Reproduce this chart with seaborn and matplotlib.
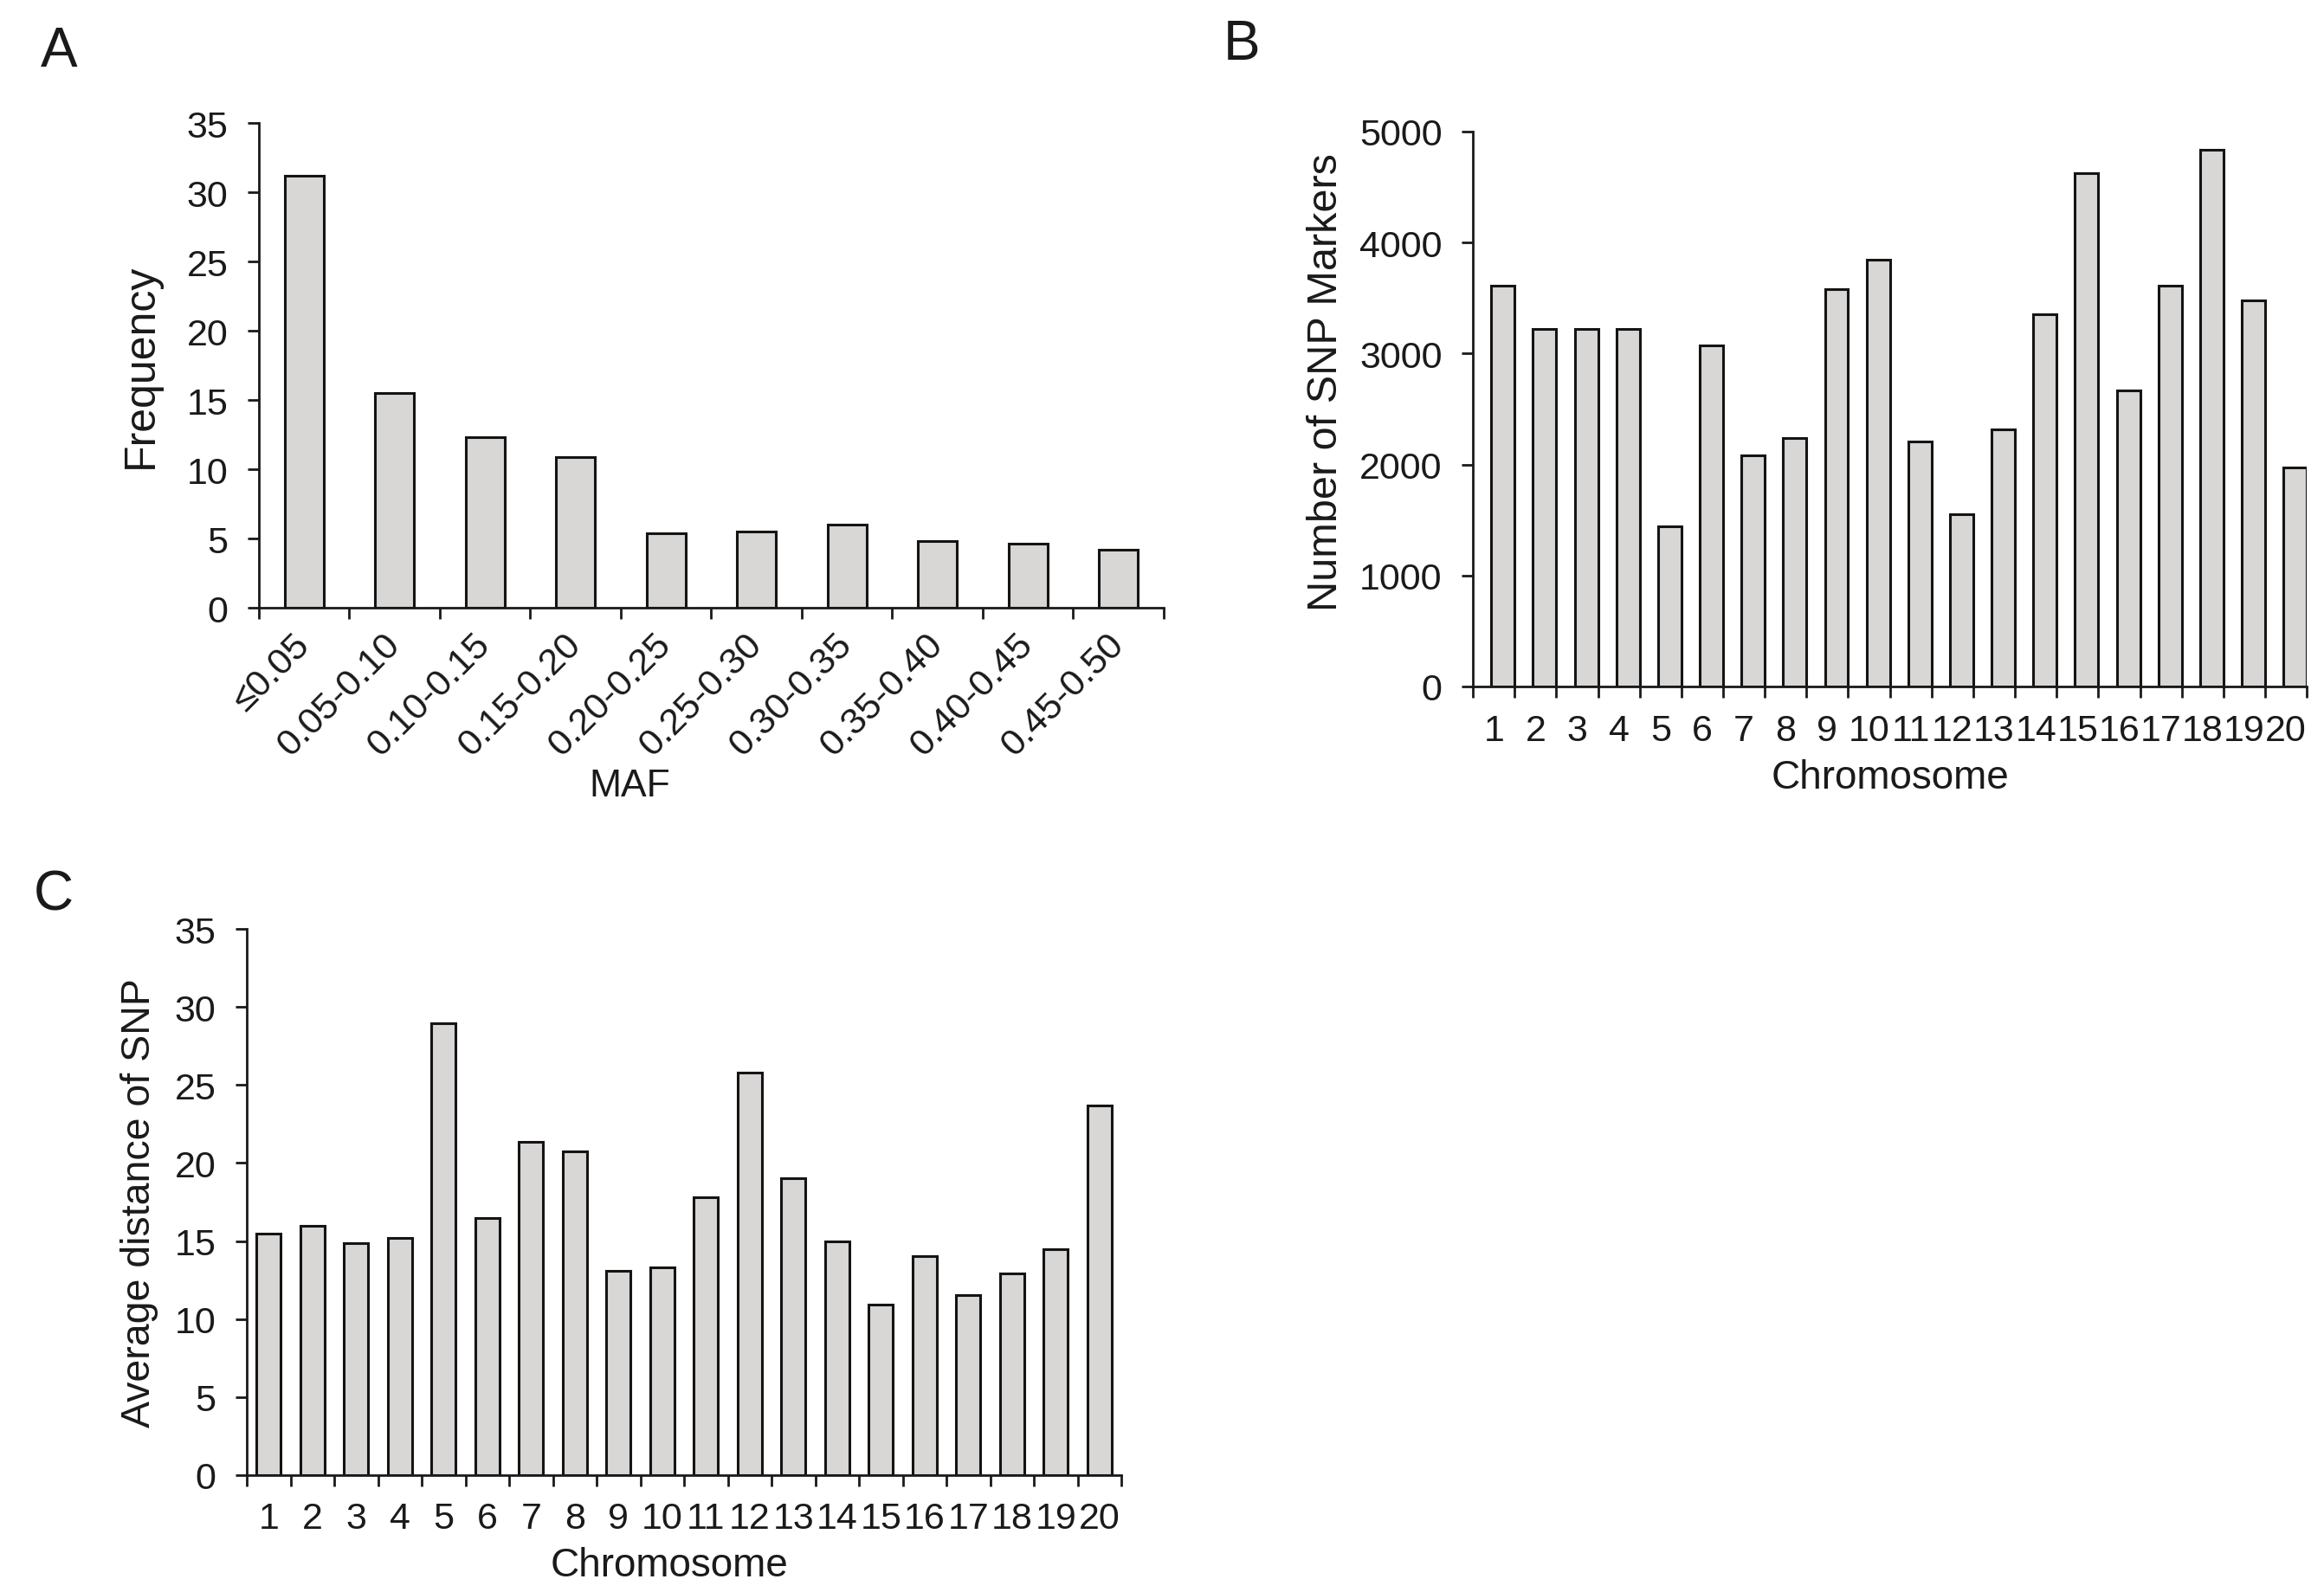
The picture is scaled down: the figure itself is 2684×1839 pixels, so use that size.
import matplotlib
matplotlib.use("Agg")
import matplotlib.pyplot as plt
from matplotlib.ticker import FixedLocator, MultipleLocator
import seaborn as sns
import pandas as pd
import numpy as np

# ---------------- data ----------------
maf_bins = ["≤0.05", "0.05-0.10", "0.10-0.15", "0.15-0.20", "0.20-0.25",
            "0.25-0.30", "0.30-0.35", "0.35-0.40", "0.40-0.45", "0.45-0.50"]
maf_freq = [31.2, 15.5, 12.3, 10.9, 5.4, 5.5, 6.0, 4.8, 4.6, 4.2]

chromosomes = [str(i) for i in range(1, 21)]
snp_counts = [3610, 3220, 3220, 3220, 1440, 3070, 2085, 2237, 3583, 3844,
              2204, 1550, 2313, 3351, 4621, 2668, 3611, 4839, 3479, 1972]
avg_distance = [15.5, 16.0, 14.85, 15.2, 28.95, 16.5, 21.35, 20.75, 13.1, 13.3,
                17.8, 25.8, 19.0, 14.95, 10.95, 14.05, 11.55, 12.9, 14.5, 23.7]

# ---------------- style ----------------
sns.set_theme(style="ticks")
plt.rcParams["font.family"] = ["Liberation Sans", "DejaVu Sans"]
plt.rcParams["axes.linewidth"] = 2.0

BAR_FILL = "#d9d7d6"
BAR_EDGE = "#141414"
TICK_FS = 31
TEXT_C = "#1a1a1a"

fig = plt.figure(figsize=(26.84, 18.40), dpi=100)
fig.patch.set_facecolor("white")

axA = fig.add_axes([0.1114, 0.6179, 0.3893, 0.3043])
axB = fig.add_axes([0.6338, 0.5685, 0.3588, 0.3484])
axC = fig.add_axes([0.1062, 0.0734, 0.3763, 0.3429])


def style_axis(ax, n, ymax, ystep, xpad, shift=0.0):
    ax.set_xlim(-0.5, n - 0.5)
    ax.set_ylim(0, ymax)
    ax.yaxis.set_major_locator(MultipleLocator(ystep))
    for s in ["top", "right"]:
        ax.spines[s].set_visible(False)
    for s in ["left", "bottom"]:
        ax.spines[s].set_color(TEXT_C)
        ax.spines[s].set_linewidth(2.0)
    # category labels at centres with no mark, tick marks at category edges
    ax.xaxis.set_minor_locator(FixedLocator(np.arange(-0.5, n, 1.0)))
    ax.tick_params(axis="x", which="major", length=0, pad=xpad,
                   labelsize=TICK_FS, colors=TEXT_C)
    ax.tick_params(axis="x", which="minor", length=9.5, width=2.0,
                   direction="out", color=TEXT_C)
    ax.tick_params(axis="y", which="major", length=9.5, width=2.0,
                   direction="out", pad=16, labelsize=TICK_FS, colors=TEXT_C)
    if shift:
        for p in ax.patches:
            p.set_x(p.get_x() + shift)


# ---------------- Panel A ----------------
sns.barplot(x=maf_bins, y=maf_freq, order=maf_bins, color=BAR_FILL, saturation=1,
            width=0.43, edgecolor=BAR_EDGE, linewidth=2.2, ax=axA)
style_axis(axA, len(maf_bins), 35, 5, xpad=26)
for lab in axA.get_xticklabels():
    lab.set_rotation(45)
    lab.set_ha("right")
    lab.set_va("center")
    lab.set_rotation_mode("anchor")
axA.set_xlabel("MAF", fontsize=32, color=TEXT_C)
axA.xaxis.set_label_coords(0.41, -0.33)
axA.set_ylabel("Frequency", fontsize=36, color=TEXT_C)
axA.yaxis.set_label_coords(-0.108, 0.5)

# ---------------- Panel B ----------------
sns.barplot(x=chromosomes, y=snp_counts, order=chromosomes, color=BAR_FILL, saturation=1,
            width=0.56, edgecolor=BAR_EDGE, linewidth=2.2, ax=axB)
style_axis(axB, len(chromosomes), 5000, 1000, xpad=22, shift=0.22)
axB.set_xlabel("Chromosome", fontsize=33, color=TEXT_C)
axB.xaxis.set_label_coords(0.50, -0.13)
axB.set_ylabel("Number of SNP Markers", fontsize=35, color=TEXT_C)
axB.yaxis.set_label_coords(-0.153, 0.55)

# ---------------- Panel C ----------------
sns.barplot(x=chromosomes, y=avg_distance, order=chromosomes, color=BAR_FILL, saturation=1,
            width=0.56, edgecolor=BAR_EDGE, linewidth=2.2, ax=axC)
style_axis(axC, len(chromosomes), 35, 5, xpad=22)
axC.set_xlabel("Chromosome", fontsize=33, color=TEXT_C)
axC.xaxis.set_label_coords(0.483, -0.13)
axC.set_ylabel("Average distance of SNP", fontsize=33.5, color=TEXT_C)
axC.yaxis.set_label_coords(-0.101, 0.5)

# ---------------- panel letters ----------------
letter_kw = dict(fontsize=46, color=TEXT_C, ha="center", va="center")
fig.text(68 / 2684, 1 - 60 / 1840, "A", **letter_kw)
fig.text(1434 / 2684, 1 - 52 / 1840, "B", **letter_kw)
fig.text(62 / 2684, 1 - 1035 / 1840, "C", **letter_kw)

fig.savefig("out.png", dpi=100, facecolor="white")
